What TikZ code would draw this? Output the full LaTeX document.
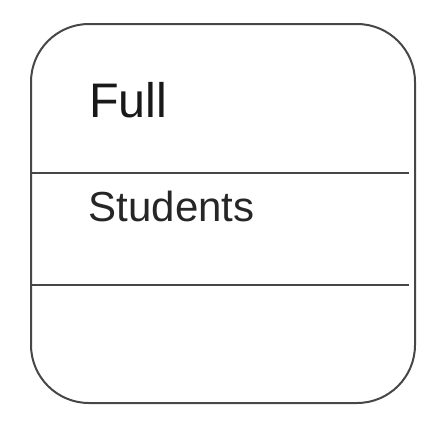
\documentclass[tikz,border=0pt]{standalone}
\usepackage{fontspec}
\setmainfont{Liberation Sans}
\begin{document}
\begin{tikzpicture}[x=1pt,y=-1pt,
  outline/.style={draw=black!72,line width=2pt},
  title/.style={anchor=base west,inner sep=0pt,font=\fontsize{48.5}{54}\selectfont,text=black!90},
  label/.style={anchor=base west,inner sep=0pt,font=\fontsize{42}{48}\selectfont,text=black!85}]
\useasboundingbox (0,0) rectangle (446,434);
\node[outline,rounded corners=58pt,minimum width=384pt,minimum height=379pt,inner sep=0pt] (box) at (223,213.5) {};
\coordinate (l1) at (31,172.5);
\coordinate (r1) at (409,172.5);
\coordinate (l2) at (31,285);
\coordinate (r2) at (409,285);
\draw[outline] (l1) -- (r1);
\draw[outline] (l2) -- (r2);
\node[title] (full) at (89,117) {Full};
\node[label] (students) at (88.5,221.5) {Students};
\end{tikzpicture}
\end{document}
